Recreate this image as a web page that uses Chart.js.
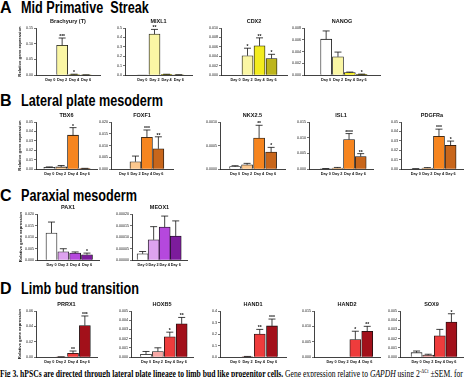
<!DOCTYPE html>
<html lang="en">
<head>
<meta charset="UTF-8">
<title>Fig 3 - gene expression panels</title>
<script src="https://cdn.jsdelivr.net/npm/chart.js"></script>
<style>
  body { margin: 0; width: 474px; height: 377px; overflow: hidden; background: #fff; position: relative;
         font-family: "Liberation Sans", Arial, sans-serif; }
  canvas { position: absolute; }
  .head { position: absolute; left: 0; font-weight: bold; font-size: 16px; line-height: 16px; white-space: nowrap; color: #000; }
  .head span { position: absolute; left: 21px; top: 0; transform: scaleX(0.79); transform-origin: left top; }
  #caption { position: absolute; left: 0; top: 368px; font-family: "Liberation Serif", "Times New Roman", serif;
             font-size: 10px; line-height: 12px; white-space: nowrap; transform-origin: left top; color: #000; }
  #caption sup { font-size: 6px; line-height: 0; }
</style>
</head>
<body>
<div class="head" style="top:0px">A<span>Mid Primative&nbsp; Streak</span></div>
<div class="head" style="top:93px">B<span>Lateral plate mesoderm</span></div>
<div class="head" style="top:188px">C<span>Paraxial mesoderm</span></div>
<div class="head" style="top:281px">D<span>Limb bud transition</span></div>
<div id="caption"><b>Fig 3. hPSCs are directed through lateral plate lineage to limb bud like progenitor cells.</b> Gene expression relative to <i>GAPDH</i> using 2<sup>-ΔCt</sup> ±SEM, for</div>

<script>
    const days = ['Day 0', 'Day 2', 'Day 4', 'Day 6'];

    // A - mid primitive streak
    const brachyury = [0, 0.095, 0.0015, 0.0003];
    const brachyuryErr = [0, 0.023, 0.001, 0.0002];
    const brachyuryStars = ['', '***', '*', ''];
    const brachyuryTicks = [0, 0.05, 0.10, 0.15];

    const mixl1 = [0.001, 0.435, 0.006, 0.002];
    const mixl1Err = [0, 0.05, 0.002, 0.001];
    const mixl1Stars = ['', '**', '', ''];
    const mixl1Ticks = [0, 0.1, 0.2, 0.3, 0.4, 0.5];

    const cdx2 = [0, 0.0041, 0.0062, 0.0035];
    const cdx2Err = [0, 0.0016, 0.0017, 0.0009];
    const cdx2Stars = ['', '*', '**', '*'];
    const cdx2Ticks = [0, 0.002, 0.004, 0.006, 0.008, 0.010];

    const nanog = [0.0061, 0.0031, 0.0004, 0.0001];
    const nanogErr = [0.0014, 0.0008, 0.0001, 0.00005];
    const nanogStars = ['', '', '', '*'];
    const nanogTicks = [0, 0.002, 0.004, 0.006, 0.008];

    // B - lateral plate mesoderm
    const tbx6 = [0.0018, 0.0022, 0.036, 0.0005];
    const tbx6Err = [0.0004, 0.0015, 0.008, 0.0002];
    const tbx6Stars = ['', '', '*', ''];
    const tbx6Ticks = [0, 0.01, 0.02, 0.03, 0.04, 0.05];

    const foxf1 = [0, 0.0031, 0.0135, 0.0086];
    const foxf1Err = [0, 0.0024, 0.0031, 0.0051];
    const foxf1Stars = ['', '', '***', '**'];
    const foxf1Ticks = [0, 0.005, 0.010, 0.015, 0.020];

    const nkx25 = [0.00005, 0.00009, 0.00066, 0.00036];
    const nkx25Err = [0.00002, 0.00003, 0.00027, 0.0001];
    const nkx25Stars = ['', '', '**', '*'];
    const nkx25Ticks = [0, 0.0005, 0.0010];

    const isl1 = [0.0001, 0.0003, 0.0094, 0.004];
    const isl1Err = [0.00005, 0.0002, 0.0019, 0.0009];
    const isl1Stars = ['', '', '****', '**'];
    const isl1Ticks = [0, 0.005, 0.010, 0.015];

    const pdgfra = [0.0003, 0.001, 0.0348, 0.0253];
    const pdgfraErr = [0.0001, 0.0005, 0.0076, 0.0044];
    const pdgfraStars = ['', '', '***', '*'];
    const pdgfraTicks = [0, 0.01, 0.02, 0.03, 0.04, 0.05];

    // C - paraxial mesoderm
    const pax1 = [0.0117, 0.0036, 0.003, 0.0023];
    const pax1Err = [0.0048, 0.0013, 0.0005, 0.0007];
    const pax1Stars = ['', '', '', '*'];
    const pax1Ticks = [0, 0.005, 0.010, 0.015, 0.020];

    const meox1 = [0.000027, 0.000088, 0.000143, 0.000104];
    const meox1Err = [0.00001, 0.000057, 0.000048, 0.000066];
    const meox1Stars = ['', '', '', ''];
    const meox1Ticks = [0, 0.00005, 0.00010, 0.00015, 0.00020];

    // D - limb bud transition
    const prrx1 = [0, 0.0002, 0.0048, 0.041];
    const prrx1Err = [0, 0.0001, 0.003, 0.0125];
    const prrx1Stars = ['', '', '**', '***'];
    const prrx1Ticks = [0, 0.02, 0.04, 0.06];

    const hoxb5 = [0.0003, 0.0006, 0.0022, 0.0036];
    const hoxb5Err = [0.0003, 0.0004, 0.0005, 0.0007];
    const hoxb5Stars = ['', '', '*', '**'];
    const hoxb5Ticks = [0, 0.001, 0.002, 0.003, 0.004, 0.005];

    const hand1 = [0, 0.003, 0.2, 0.27];
    const hand1Err = [0, 0.002, 0.04, 0.06];
    const hand1Stars = ['', '', '**', '***'];
    const hand1Ticks = [0, 0.1, 0.2, 0.3, 0.4];

    const hand2 = [0, 0, 0.0057, 0.0084];
    const hand2Err = [0, 0, 0.0027, 0.0016];
    const hand2Stars = ['', '', '*', '**'];
    const hand2Ticks = [0, 0.005, 0.010, 0.015];

    const sox9 = [0.00047, 0.0002, 0.0023, 0.0038];
    const sox9Err = [0.00018, 0.0001, 0.0007, 0.0009];
    const sox9Stars = ['', '', '', '*'];
    const sox9Ticks = [0, 0.001, 0.002, 0.003, 0.004, 0.005];

    // bar colours per section (Day 0 .. Day 6)
    const yellowShades = ['#ffffff', '#faf6a4', '#f3ec1e', '#bdb51c'];
    const orangeShades = ['#ffffff', '#fcc78d', '#f6851f', '#c8661b'];
    const purpleShades = ['#ffffff', '#dda2ee', '#b548dd', '#7c1c9c'];
    const redShades = ['#ffffff', '#f7a8a5', '#ee3c3c', '#a2101a'];

    // row placement: canvas top, canvas height
    const rows = [
        { top: 17, h: 68, colors: yellowShades },
        { top: 111, h: 68, colors: orangeShades },
        { top: 203, h: 67, colors: purpleShades },
        { top: 300, h: 67, colors: redShades }
    ];

    const panels = [
        { name: 'Brachyury (T)', mean: brachyury, err: brachyuryErr, stars: brachyuryStars, ticks: brachyuryTicks, dec: 2, row: 0, axis: 36, right: 100, xMin: -0.52, xMax: 3.5, yTitle: true },
        { name: 'MIXL1', mean: mixl1, err: mixl1Err, stars: mixl1Stars, ticks: mixl1Ticks, dec: 1, row: 0, axis: 125, right: 192, xMin: -0.74, xMax: 3.4 },
        { name: 'CDX2', mean: cdx2, err: cdx2Err, stars: cdx2Stars, ticks: cdx2Ticks, dec: 3, row: 0, axis: 221, right: 287, xMin: -0.52, xMax: 3.6 },
        { name: 'NANOG', mean: nanog, err: nanogErr, stars: nanogStars, ticks: nanogTicks, dec: 3, row: 0, axis: 304, right: 380, xMin: -1.07, xMax: 3.75 },

        { name: 'TBX6', mean: tbx6, err: tbx6Err, stars: tbx6Stars, ticks: tbx6Ticks, dec: 2, row: 1, axis: 36, right: 97, xMin: -0.48, xMax: 3.38, yTitle: true },
        { name: 'FOXF1', mean: foxf1, err: foxf1Err, stars: foxf1Stars, ticks: foxf1Ticks, dec: 3, row: 1, axis: 111, right: 173, xMin: -0.46, xMax: 3.6 },
        { name: 'NKX2.5', mean: nkx25, err: nkx25Err, stars: nkx25Stars, ticks: nkx25Ticks, dec: 4, row: 1, axis: 220, right: 285, xMin: -0.58, xMax: 3.48 },
        { name: 'ISL1', mean: isl1, err: isl1Err, stars: isl1Stars, ticks: isl1Ticks, dec: 3, row: 1, axis: 309, right: 373, xMin: -0.75, xMax: 3.37 },
        { name: 'PDGFRa', mean: pdgfra, err: pdgfraErr, stars: pdgfraStars, ticks: pdgfraTicks, dec: 2, row: 1, axis: 401, right: 463, xMin: -0.6, xMax: 3.4 },

        { name: 'PAX1', mean: pax1, err: pax1Err, stars: pax1Stars, ticks: pax1Ticks, dec: 3, row: 2, axis: 37, right: 99, xMin: -0.57, xMax: 3.36, yTitle: true },
        { name: 'MEOX1', mean: meox1, err: meox1Err, stars: meox1Stars, ticks: meox1Ticks, dec: 5, row: 2, axis: 132, right: 187, xMin: -0.34, xMax: 3.4 },

        { name: 'PRRX1', mean: prrx1, err: prrx1Err, stars: prrx1Stars, ticks: prrx1Ticks, dec: 2, row: 3, axis: 36, right: 97, xMin: -0.48, xMax: 3.38, yTitle: true },
        { name: 'HOXB5', mean: hoxb5, err: hoxb5Err, stars: hoxb5Stars, ticks: hoxb5Ticks, dec: 3, row: 3, axis: 131, right: 193, xMin: -0.61, xMax: 3.3 },
        { name: 'HAND1', mean: hand1, err: hand1Err, stars: hand1Stars, ticks: hand1Ticks, dec: 1, row: 3, axis: 220, right: 286, xMin: -0.57, xMax: 3.47 },
        { name: 'HAND2', mean: hand2, err: hand2Err, stars: hand2Stars, ticks: hand2Ticks, dec: 3, row: 3, axis: 314, right: 380, xMin: -0.78, xMax: 3.38 },
        { name: 'SOX9', mean: sox9, err: sox9Err, stars: sox9Stars, ticks: sox9Ticks, dec: 3, row: 3, axis: 400, right: 463, xMin: -0.75, xMax: 3.32 }
    ];

    const FONT = '"Liberation Sans", Arial, sans-serif';
    Chart.defaults.font.family = FONT;
    Chart.defaults.color = '#111';

    // error bars (upper only), significance stars and panel title
    const barExtras = {
        id: 'barExtras',
        afterDatasetsDraw(chart) {
            const p = chart.options.plugins.barExtras;
            const ctx = chart.ctx;
            const ys = chart.scales.y;
            const area = chart.chartArea;
            const bars = chart.getDatasetMeta(0).data;
            ctx.save();
            ctx.strokeStyle = '#111';
            ctx.fillStyle = '#111';
            ctx.lineWidth = 0.8;
            bars.forEach((bar, i) => {
                const e = p.err[i];
                const topY = ys.getPixelForValue(p.mean[i] + e);
                if (e > 0) {
                    ctx.beginPath();
                    ctx.moveTo(bar.x, bar.y);
                    ctx.lineTo(bar.x, topY);
                    ctx.moveTo(bar.x - 3.5, topY);
                    ctx.lineTo(bar.x + 3.5, topY);
                    ctx.stroke();
                }
                if (p.stars[i]) {
                    ctx.font = 'bold 5px ' + FONT;
                    ctx.textAlign = 'center';
                    ctx.textBaseline = 'alphabetic';
                    ctx.fillText(p.stars[i], bar.x, topY);
                }
            });
            ctx.font = 'bold 5.5px ' + FONT;
            ctx.textAlign = 'center';
            ctx.textBaseline = 'middle';
            ctx.fillText(p.name, (area.left + area.right) / 2, area.top - 6.5);
            ctx.restore();
        }
    };

    panels.forEach(p => {
        const row = rows[p.row];
        const yw = p.yTitle ? 21 : 18;
        const padRight = 2;
        const left = p.axis - yw;
        const canvas = document.createElement('canvas');
        canvas.width = p.right - left + padRight;
        canvas.height = row.h;
        canvas.style.left = left + 'px';
        canvas.style.top = row.top + 'px';
        document.body.appendChild(canvas);

        new Chart(canvas.getContext('2d'), {
            type: 'bar',
            data: {
                datasets: [{
                    data: p.mean.map((v, i) => ({ x: i, y: v })),
                    backgroundColor: row.colors,
                    borderColor: '#111',
                    borderWidth: 0.8,
                    barThickness: 11
                }]
            },
            options: {
                responsive: false,
                animation: false,
                layout: { padding: { top: 11, right: padRight, bottom: 0, left: 0 } },
                plugins: {
                    legend: { display: false },
                    tooltip: { enabled: false },
                    barExtras: p
                },
                scales: {
                    x: {
                        type: 'linear',
                        min: p.xMin,
                        max: p.xMax,
                        afterBuildTicks: s => { s.ticks = days.map((d, i) => ({ value: i })); },
                        afterFit: s => { s.height = 10; },
                        grid: { display: false, drawTicks: false },
                        border: { display: true, color: '#111', width: 0.8 },
                        ticks: {
                            autoSkip: false, maxRotation: 0, padding: 2.5,
                            font: { size: 3.8, weight: 'bold' },
                            callback: v => days[v]
                        }
                    },
                    y: {
                        min: 0,
                        max: p.ticks[p.ticks.length - 1],
                        afterBuildTicks: s => { s.ticks = p.ticks.map(v => ({ value: v })); },
                        afterFit: s => { s.width = yw; },
                        grid: { drawOnChartArea: false, tickLength: 2, color: '#111', lineWidth: 0.6 },
                        border: { display: true, color: '#111', width: 0.8 },
                        ticks: { padding: 1, font: { size: 3.6 }, callback: v => v.toFixed(p.dec) },
                        title: {
                            display: !!p.yTitle,
                            text: 'Relative gene expression',
                            font: { size: 4.2, weight: 'bold' },
                            padding: { top: 2, bottom: 0 }
                        }
                    }
                }
            },
            plugins: [barExtras]
        });
    });

    // squeeze the caption line to the figure width
    const cap = document.getElementById('caption');
    cap.style.transform = 'scaleX(' + (463 / cap.scrollWidth) + ')';
</script>
</body>
</html>
